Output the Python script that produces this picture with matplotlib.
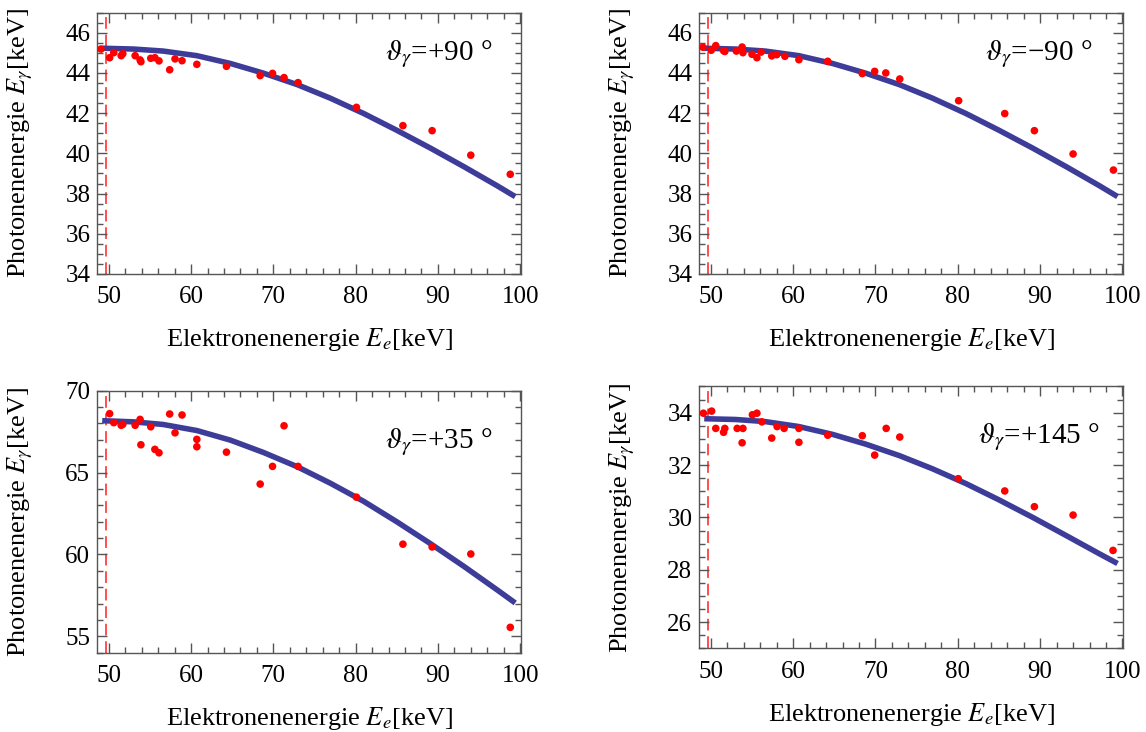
import matplotlib
matplotlib.use("Agg")
import matplotlib.pyplot as plt
from matplotlib.ticker import MultipleLocator

plt.rcParams['font.family'] = 'serif'
plt.rcParams['font.serif'] = ['Liberation Serif', 'DejaVu Serif']
plt.rcParams['mathtext.fontset'] = 'stix'

# Messpunkte
E_E_90P = [49.05, 50.1, 50.6, 51.5, 51.7, 53.2, 53.8, 53.9, 55.1, 55.6, 56.1, 57.4, 58.05, 58.9,
           60.7, 64.3, 68.4, 69.9, 71.3, 73.0, 80.1, 85.75, 89.3, 94.0, 98.8]
E_G_90P = [45.19, 44.76, 45.01, 44.86, 44.96, 44.86, 44.65, 44.56, 44.73, 44.76, 44.60, 44.16, 44.70, 44.61,
           44.43, 44.33, 43.87, 43.98, 43.77, 43.52, 42.29, 41.38, 41.13, 39.91, 38.96]

E_E_90M = [49.04, 50.05, 50.6, 51.55, 51.7, 53.1, 53.8, 53.9, 55.0, 55.6, 56.1, 57.4, 58.0, 59.0,
           60.7, 64.2, 68.4, 69.9, 71.25, 72.95, 80.1, 85.7, 89.3, 94.0, 98.9]
E_G_90M = [45.28, 45.13, 45.36, 45.11, 45.07, 45.09, 45.29, 45.01, 44.93, 44.76, 45.04, 44.85, 44.91, 44.83,
           44.66, 44.58, 43.97, 44.08, 44.00, 43.70, 42.62, 41.98, 41.13, 39.97, 39.17]

E_E_35 = [49.1, 50.1, 50.6, 51.5, 51.7, 53.2, 53.8, 53.9, 55.1, 55.6, 56.1, 57.4, 58.05, 58.9,
          60.7, 60.7, 64.3, 68.4, 69.9, 71.3, 73.0, 80.1, 85.75, 89.3, 94.0, 98.8]
E_G_35 = [70.15, 68.60, 68.05, 67.89, 67.95, 67.89, 68.25, 66.70, 67.80, 66.42, 66.21, 68.58, 67.43, 68.52,
          67.03, 66.58, 66.25, 64.30, 65.38, 67.86, 65.38, 63.50, 60.63, 60.46, 60.03, 55.55]

E_E_145 = [49.1, 50.1, 50.6, 51.55, 51.7, 53.2, 53.8, 53.9, 55.05, 55.6, 56.2, 57.4, 58.05, 58.9,
           60.7, 60.7, 64.2, 68.4, 69.9, 71.3, 72.95, 80.05, 85.7, 89.3, 94.0, 98.85]
E_G_145 = [33.98, 34.06, 33.40, 33.25, 33.40, 33.40, 32.85, 33.40, 33.92, 33.98, 33.65, 33.03, 33.47, 33.40,
           33.40, 32.87, 33.14, 33.12, 32.38, 33.40, 33.07, 31.48, 31.01, 30.41, 30.09, 28.74]

# Theoriekurven
FIT_E = [49.2, 53.0, 56.6, 60.7, 64.8, 68.8, 72.9, 76.9, 81.0, 85.0, 89.1, 93.2, 97.2, 99.4]
FIT_90 = [45.23, 45.19, 45.09, 44.86, 44.47, 43.99, 43.42, 42.75, 41.98, 41.15, 40.26, 39.33, 38.39, 37.85]
FIT_35 = [68.17, 68.10, 67.94, 67.57, 66.98, 66.23, 65.36, 64.36, 63.24, 62.00, 60.66, 59.26, 57.84, 57.04]
FIT_145 = [33.77, 33.74, 33.66, 33.47, 33.17, 32.80, 32.36, 31.86, 31.29, 30.67, 30.00, 29.30, 28.61, 28.24]

CUTOFF = 49.63  # gestrichelte Linie
ANGLES = ['+90', '\u221290', '+35', '+145']

FRAME = '#555555'


def draw_panel(rect, e_e, e_g, fit_g, ylim, ymajor, yminor, angle, text_pos):
    ax = fig.add_axes(rect)
    ax.axvline(CUTOFF, color='#ff4040', lw=1.3, dashes=(6.5, 3.2), zorder=1)
    ax.plot(FIT_E, fit_g, color='#3d3d99', lw=4.0, solid_capstyle='butt', zorder=2)
    ax.scatter(e_e, e_g, s=30, color='red', edgecolors='none', zorder=3)
    ax.set_xlim(48.6, 100.1)
    ax.set_ylim(*ylim)
    ax.xaxis.set_major_locator(MultipleLocator(10))
    ax.xaxis.set_minor_locator(MultipleLocator(2))
    ax.yaxis.set_major_locator(MultipleLocator(ymajor))
    ax.yaxis.set_minor_locator(MultipleLocator(yminor))
    ax.tick_params(which='both', direction='in', top=True, right=True, color=FRAME, width=1)
    ax.tick_params(which='major', length=7, labelsize=18)
    ax.tick_params(which='minor', length=4)
    ax.tick_params(axis='x', pad=9)
    ax.tick_params(axis='y', pad=5)
    for s in ax.spines.values():
        s.set_color(FRAME)
        s.set_linewidth(1)
    ax.set_xlabel(r'Elektronenenergie $E_e$[keV]', fontsize=19)
    ax.set_ylabel(r'Photonenenergie $E_\gamma$[keV]', fontsize=19)
    ax.xaxis.set_label_coords(0.5, -0.2)
    ax.yaxis.set_label_coords(-0.147, 0.5)
    ax.text(text_pos[0], text_pos[1], r'$\vartheta_\gamma$' + '=' + angle + ' \u00b0',
            transform=ax.transAxes, fontsize=21, va='center', ha='left')
    return ax


fig = plt.figure(figsize=(11.46, 7.32), dpi=100)

draw_panel([0.0849, 0.6257, 0.3697, 0.3570], E_E_90P, E_G_90P, FIT_90, (34, 47), 2, 0.5, ANGLES[0], (0.679, 0.84))
draw_panel([0.6102, 0.6257, 0.3700, 0.3570], E_E_90M, E_G_90M, FIT_90, (34, 47), 2, 0.5, ANGLES[1], (0.674, 0.84))
draw_panel([0.0849, 0.1083, 0.3697, 0.3579], E_E_35, E_G_35, FIT_35, (54, 70), 5, 1, ANGLES[2], (0.679, 0.805))
draw_panel([0.6102, 0.1143, 0.3700, 0.3577], E_E_145, E_G_145, FIT_145, (25, 35), 2, 0.5, ANGLES[3], (0.657, 0.808))

plt.savefig('out.png', dpi=100)
